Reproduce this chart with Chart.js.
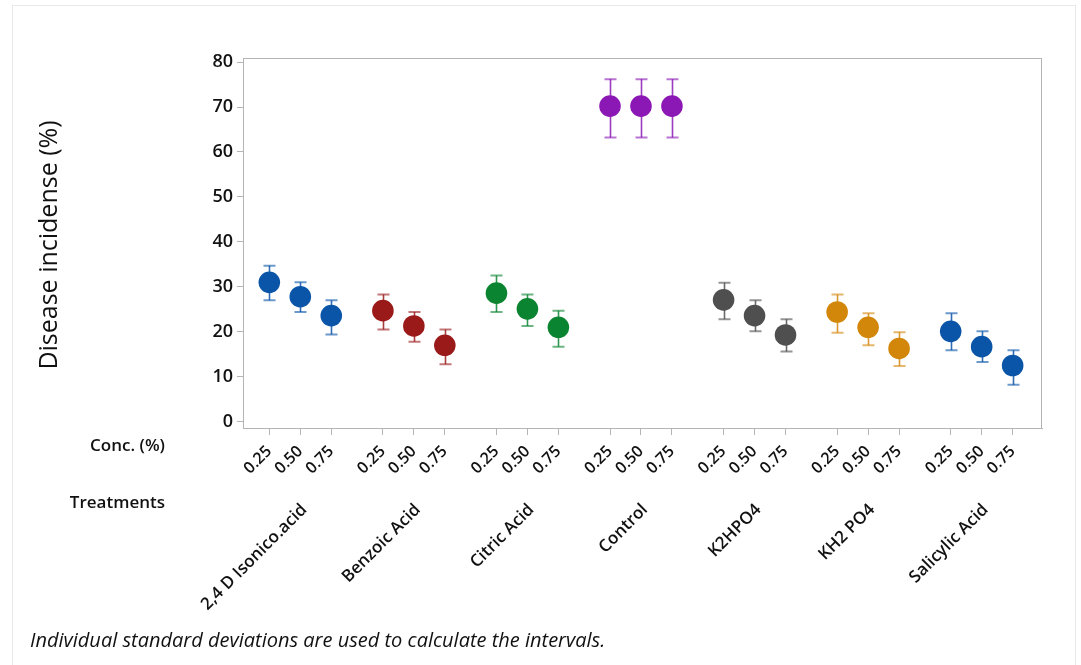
<!DOCTYPE html>
<html><head><meta charset="utf-8">
<script src="https://cdn.jsdelivr.net/npm/chart.js@4"></script>
<style>html,body{margin:0;padding:0;background:#fff}#wrap{width:1081px;height:665px;position:relative}</style>
</head><body><div id="wrap"><canvas id="c" width="1081" height="665"></canvas></div>
<script>
const treatments = ['2,4 D Isonico.acid','Benzoic Acid','Citric Acid','Control','K2HPO4','KH2 PO4','Salicylic Acid'];
const concLabels = ['0.25','0.50','0.75'];
const means = [[31.0,27.8,23.6],[24.7,21.3,17.0],[28.6,25.1,21.0],[70.2,70.2,70.2],[27.1,23.6,19.3],[24.4,21.0,16.3],[20.1,16.7,12.5]];
const lower = [[27.0,24.4,19.4],[20.5,17.8,12.8],[24.4,21.3,16.7],[63.2,63.2,63.2],[22.8,20.1,15.6],[19.8,17.0,12.4],[15.9,13.3,8.2]];
const upper = [[34.7,31.0,27.0],[28.3,24.4,20.5],[32.5,28.3,24.7],[76.2,76.2,76.2],[30.9,27.0,22.8],[28.3,24.1,19.9],[24.1,20.1,15.9]];
const colors = ['#0A55A8','#9A1A1A','#0A8430','#8B17B5','#4F4F4F','#D3870A','#0A55A8'];
const yTicks = [0,10,20,30,40,50,60,70,80];
const groupGap = 0.667;

const pos = (g,i) => g*(concLabels.length+groupGap)+i;
const tickPositions = [];
treatments.forEach((t,g)=>concLabels.forEach((c,i)=>tickPositions.push(pos(g,i))));

function alpha(hex,a){const n=parseInt(hex.slice(1),16);return `rgba(${n>>16},${(n>>8)&255},${n&255},${a})`;}

const datasets = treatments.map((t,g)=>({
  label:t,
  data: means[g].map((v,i)=>({x:pos(g,i),y:v,lo:lower[g][i],hi:upper[g][i]})),
  backgroundColor: colors[g], borderColor: colors[g], borderWidth:0,
  pointRadius:10.8, pointHoverRadius:10.8
}));

const FONT = "'Open Sans', 'Noto Sans', sans-serif";

const deco = {
  id:'deco',
  beforeDraw(chart){
    const ctx=chart.ctx;
    ctx.save();
    ctx.strokeStyle='#e8e8e8';ctx.lineWidth=1;
    ctx.strokeRect(12.5,5.5,1063,700);
    ctx.restore();
  },
  beforeDatasetsDraw(chart){
    const ctx=chart.ctx, xs=chart.scales.x, ys=chart.scales.y;
    ctx.save();
    chart.data.datasets.forEach((ds,g)=>{
      ds.data.forEach(p=>{
        const x=Math.round(xs.getPixelForValue(p.x))+0.5;
        const yt=ys.getPixelForValue(p.hi), yb=ys.getPixelForValue(p.lo);
        ctx.strokeStyle=alpha(colors[g],0.85);ctx.lineWidth=1.6;
        ctx.beginPath();ctx.moveTo(x,yt);ctx.lineTo(x,yb);ctx.stroke();
        ctx.strokeStyle=alpha(colors[g],0.6);ctx.lineWidth=2;
        ctx.beginPath();ctx.moveTo(x-6,yt);ctx.lineTo(x+6,yt);ctx.moveTo(x-6,yb);ctx.lineTo(x+6,yb);ctx.stroke();
      });
    });
    ctx.restore();
  },
  afterDraw(chart){
    const ctx=chart.ctx, a=chart.chartArea, xs=chart.scales.x;
    ctx.save();
    ctx.strokeStyle='#b4b4b4';ctx.lineWidth=1;
    ctx.strokeRect(a.left+0.5,a.top+0.5,a.right-a.left-1,a.bottom-a.top);
    ctx.fillStyle='#111';
    // y title
    ctx.save();
    ctx.translate(50,245);ctx.rotate(-Math.PI/2);
    ctx.font=`500 25px ${FONT}`;ctx.textAlign='center';ctx.textBaseline='middle';
    ctx.fillText('Disease incidense (%)',0,0);
    ctx.restore();
    // row headers
    ctx.font=`600 17px ${FONT}`;ctx.textAlign='right';ctx.textBaseline='middle';
    ctx.fillText('Conc. (%)',165,446);
    ctx.fillText('Treatments',165,503);
    // treatment labels
    ctx.font=`600 17px ${FONT}`;
    treatments.forEach((t,g)=>{
      const cx=xs.getPixelForValue(pos(g,1));
      ctx.save();ctx.translate(cx+4,507);ctx.rotate(-Math.PI/4);
      ctx.textAlign='right';ctx.textBaseline='middle';
      ctx.fillText(t,0,0);ctx.restore();
    });
    // footer
    ctx.font=`italic 400 20px ${FONT}`;ctx.textAlign='left';ctx.textBaseline='alphabetic';
    ctx.fillText('Individual standard deviations are used to calculate the intervals.',30,647);
    ctx.restore();
  }
};

new Chart(document.getElementById('c'),{
  type:'scatter',
  data:{datasets},
  options:{
    responsive:false,animation:false,
    layout:{padding:{top:58,right:39,left:0,bottom:0}},
    plugins:{legend:{display:false},tooltip:{enabled:false}},
    scales:{
      x:{type:'linear',min:-0.85,max:24.95,
        afterFit(s){s.height=237;},
        afterBuildTicks(s){s.ticks=tickPositions.map(v=>({value:v}));},
        grid:{display:true,drawOnChartArea:false,drawTicks:true,tickLength:7,color:'#b4b4b4'},
        border:{display:true,color:'#b4b4b4'},
        ticks:{autoSkip:false,maxRotation:45,minRotation:45,padding:7,color:'#111',
          font:{family:FONT,size:16,weight:'600'},
          callback:(v,i)=>concLabels[i%concLabels.length]}
      },
      y:{min:-1.4,max:80.9,
        afterFit(s){s.width=243;},
        afterBuildTicks(s){s.ticks=yTicks.map(v=>({value:v}));},
        grid:{display:true,drawOnChartArea:false,drawTicks:true,tickLength:6,color:'#b4b4b4'},
        border:{display:true,color:'#b4b4b4'},
        ticks:{padding:4,color:'#111',font:{family:FONT,size:18,weight:'600'}}
      }
    }
  },
  plugins:[deco]
});
</script></body></html>
